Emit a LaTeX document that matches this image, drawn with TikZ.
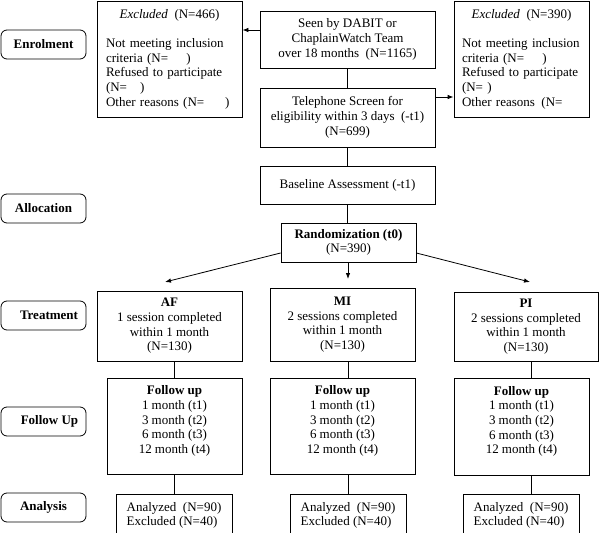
\documentclass[tikz,border=0pt]{standalone}
\usepackage{fontspec}
\setmainfont{Liberation Serif}
\usetikzlibrary{arrows.meta}
\begin{document}
\begin{tikzpicture}[x=1pt,y=-1pt,
  every node/.style={font=\fontsize{13}{14.7}\selectfont},
  box/.style={draw,line width=0.8pt,inner sep=0pt,align=center},
  exbox/.style={draw,line width=0.8pt,inner ysep=0pt,align=left},
  stage/.style={draw,line width=0.8pt,rounded corners=6pt,inner sep=0pt,minimum width=85pt,minimum height=29pt,font=\fontsize{13}{14.7}\selectfont\bfseries},
  conn/.style={line width=0.8pt},
  arr/.style={line width=0.8pt,-{Latex[length=6pt,width=4.5pt]}}]
\useasboundingbox (0,0) rectangle (600,533);
% stage labels
\node[stage] (enrol) at (43.5,44.5) {Enrolment};
\node[stage] (alloc) at (43.5,208.5) {Allocation};
\node[stage] (treat) at (43.5,315.5) {\hspace*{11pt}Treatment};
\node[stage] (follow) at (43.5,421.5) {\hspace*{12pt}Follow Up};
\node[stage] (analysis) at (43.5,507.5) {Analysis};
% enrolment
\node[exbox,inner xsep=9pt,text width=127pt,minimum height=116pt] (exL) at (169.5,59) {%
\makebox[\linewidth]{\textit{Excluded}\enspace(N=466)}\\[14.7pt]
Not meeting inclusion\\
criteria (N=\hspace{1.4em})\\
Refused to participate\\
(N=\hspace{1em})\\
Other reasons (N=\hspace{1.6em})};
\node[box,minimum width=175pt,minimum height=57pt] (seen) at (347.5,39.5) {Seen by DABIT or\\ ChaplainWatch Team\\ over 18 months\enspace(N=1165)};
\node[exbox,inner xsep=8pt,text width=119pt,minimum height=116pt] (exR) at (521.5,59) {%
\makebox[\linewidth]{\textit{Excluded}\enspace(N=390)}\\[14.7pt]
Not meeting inclusion\\
criteria (N=\hspace{1.4em})\\
Refused to participate\\
(N= )\\
Other reasons\enspace(N=};
\node[box,minimum width=175pt,minimum height=59pt] (tel) at (347.5,117.5) {Telephone Screen for\\ eligibility within 3 days\enspace(-t1)\\ (N=699)};
\node[box,minimum width=175pt,minimum height=38pt] (base) at (347.5,185) {Baseline Assessment (-t1)};
\node[box,minimum width=135pt,minimum height=39pt] (rand) at (348.5,242.5) {\textbf{Randomization (t0)}\\ (N=390)};
% treatment
\node[box,minimum width=145pt,minimum height=70pt] (afT) at (169.5,326) {\textbf{AF}\\ 1 session completed\\ within 1 month\\ (N=130)};
\node[box,minimum width=145pt,minimum height=73pt] (miT) at (342.5,324.5) {\textbf{MI}\\ 2 sessions completed\\ within 1 month\\ (N=130)};
\node[box,minimum width=144pt,minimum height=69pt] (piT) at (526,326.5) {\textbf{PI}\\ 2 sessions completed\\ within 1 month\\ (N=130)};
% follow up
\node[box,minimum width=135pt,minimum height=96pt] (afF) at (174.5,426) {\textbf{Follow up}\\ 1 month (t1)\\ 3 month (t2)\\ 6 month (t3)\\ 12 month (t4)\rule[-13pt]{0pt}{1pt}};
\node[box,minimum width=145pt,minimum height=96pt] (miF) at (342.5,426) {\textbf{Follow up}\\ 1 month (t1)\\ 3 month (t2)\\ 6 month (t3)\\ 12 month (t4)\rule[-13pt]{0pt}{1pt}};
\node[box,minimum width=135pt,minimum height=97pt] (piF) at (521.5,426.5) {\textbf{Follow up}\\ 1 month (t1)\\ 3 month (t2)\\ 6 month (t3)\\ 12 month (t4)\rule[-13pt]{0pt}{1pt}};
% analysis
\node[box,align=left,minimum width=116pt,minimum height=42pt,anchor=north] (afA) at (174,494) {Analyzed\enspace(N=90)\\ Excluded (N=40)};
\node[box,align=left,minimum width=116pt,minimum height=42pt,anchor=north] (miA) at (348,494) {Analyzed\enspace(N=90)\\ Excluded (N=40)};
\node[box,align=left,minimum width=116pt,minimum height=42pt,anchor=north] (piA) at (521,494) {Analyzed\enspace(N=90)\\ Excluded (N=40)};
% free ends
\coordinate (toAF) at (165,282);
\coordinate (toMI) at (348,279);
\coordinate (toPI) at (530,282);
% connectors
\draw[arr] ([yshift=9.5pt]seen.west) -- ([yshift=9.5pt]seen.west -| exL.east);
\draw[conn] (seen.south) -- (tel.north);
\draw[arr] ([yshift=20.5pt]tel.east) -- ([yshift=20.5pt]tel.east -| exR.west);
\draw[conn] (tel.south) -- (base.north);
\draw[conn] (base.south) -- (base.south |- rand.north);
\draw[arr] ([yshift=-10.5pt]rand.west) -- (toAF);
\draw[arr] (rand.south -| toMI) -- (toMI);
\draw[arr] ([yshift=-10.5pt]rand.east) -- (toPI);
\draw[conn] (afT.south -| 174,0) -- (afF.north -| 174,0);
\draw[conn] (afF.south -| 174,0) -- (afA.north);
\draw[conn] (miT.south -| miA.north) -- (miF.north -| miA.north);
\draw[conn] (miF.south -| miA.north) -- (miA.north);
\draw[conn] (piT.south -| 531,0) -- (piF.north -| 531,0);
\draw[conn] (piF.south -| 531,0) -- (piA.north -| 531,0);
\end{tikzpicture}
\end{document}
